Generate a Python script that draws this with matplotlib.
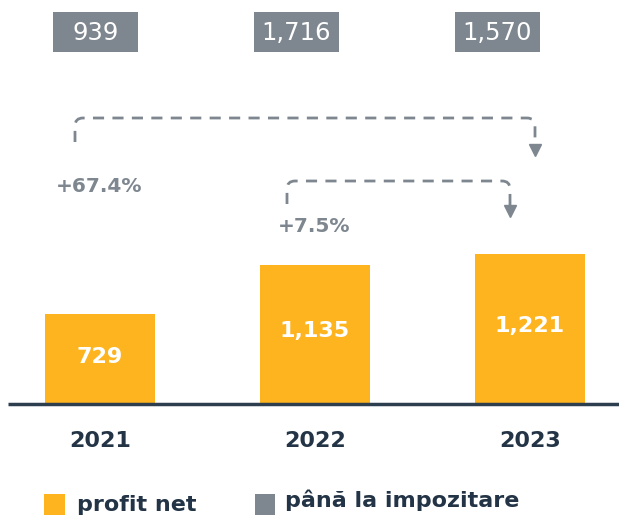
import matplotlib
matplotlib.use("Agg")
from matplotlib import pyplot as plt
from matplotlib.path import Path
from matplotlib.patches import PathPatch, Rectangle

years = ["2021", "2022", "2023"]
profit_net = [729, 1135, 1221]
pre_tax = [939, 1716, 1570]
pre_tax_labels = ["939", "1,716", "1,570"]
net_labels = ["729", "1,135", "1,221"]
growth_labels = ["+67.4%", "+7.5%"]

yellow = "#fdb41e"
grey = "#7e878f"
navy = "#233446"
plt.rcParams["font.family"] = ["DejaVu Sans"]

W, H = 619, 517
fig = plt.figure(figsize=(W / 100, H / 100), dpi=100)

# main axes: baseline at y=403px, ~0.12 px per unit
base_px = 403
ax = fig.add_axes([0, (H - base_px) / H, 1, base_px / H])
ax.set_xlim(-100 / 215, (W - 100) / 215)
ax.set_ylim(0, base_px / 0.122)
ax.axis("off")
x = range(len(years))
ax.bar(x, profit_net, width=110 / 215, color=yellow, zorder=2)
for i, v in enumerate(profit_net):
    ax.text(i, v * 0.52, net_labels[i], ha="center", va="center",
            color="white", fontsize=16, fontweight="bold")

# overlay in pixel coordinates for the decorations
deco = fig.add_axes([0, 0, 1, 1], zorder=3)
deco.set_xlim(0, W)
deco.set_ylim(H, 0)
deco.axis("off")
deco.patch.set_alpha(0)

# baseline
deco.plot([8, W], [404, 404], color="#2d3e4f", lw=2.5, solid_capstyle="butt")

# year labels
for xc, yr in zip([100, 315, 530], years):
    deco.text(xc, 441, yr, ha="center", va="center", color=navy,
              fontsize=16, fontweight="bold")

# pre-tax boxes on top
for xc, lab in zip([95.5, 296, 497.5], pre_tax_labels):
    deco.add_patch(Rectangle((xc - 42.5, 12), 85, 40, color=grey, lw=0))
    deco.text(xc, 33, lab, ha="center", va="center", color="white",
              fontsize=17.5)


def bracket(x0, x1, y_low, y_top, y_tip):
    r = 8
    verts = [(x0, y_low), (x0, y_top + r), (x0, y_top), (x0 + r, y_top),
             (x1 - r, y_top), (x1, y_top), (x1, y_top + r), (x1, y_tip - 8)]
    codes = [Path.MOVETO, Path.LINETO, Path.CURVE3, Path.CURVE3,
             Path.LINETO, Path.CURVE3, Path.CURVE3, Path.LINETO]
    deco.add_patch(PathPatch(Path(verts, codes), fill=False, ec=grey, lw=2,
                             ls=(0, (4, 3))))
    deco.plot([x1], [y_tip - 5], marker="v", ms=9, color=grey, mec=grey)


bracket(75, 535, 142, 118, 155)
bracket(287, 510, 204, 181, 216)

deco.text(56, 186, growth_labels[0], ha="left", va="center", color=grey,
          fontsize=14.5, fontweight="bold")
deco.text(278, 227, growth_labels[1], ha="left", va="center", color=grey,
          fontsize=14.5, fontweight="bold")

# legend
deco.add_patch(Rectangle((44, 494), 21, 21, color=yellow, lw=0))
deco.text(77, 505, "profit net", ha="left", va="center", color=navy,
          fontsize=16, fontweight="bold")
deco.add_patch(Rectangle((255, 494), 20, 21, color=grey, lw=0))
deco.text(285, 500, "până la impozitare", ha="left", va="center", color=navy,
          fontsize=16, fontweight="bold")

fig.savefig("out.png", dpi=100)
